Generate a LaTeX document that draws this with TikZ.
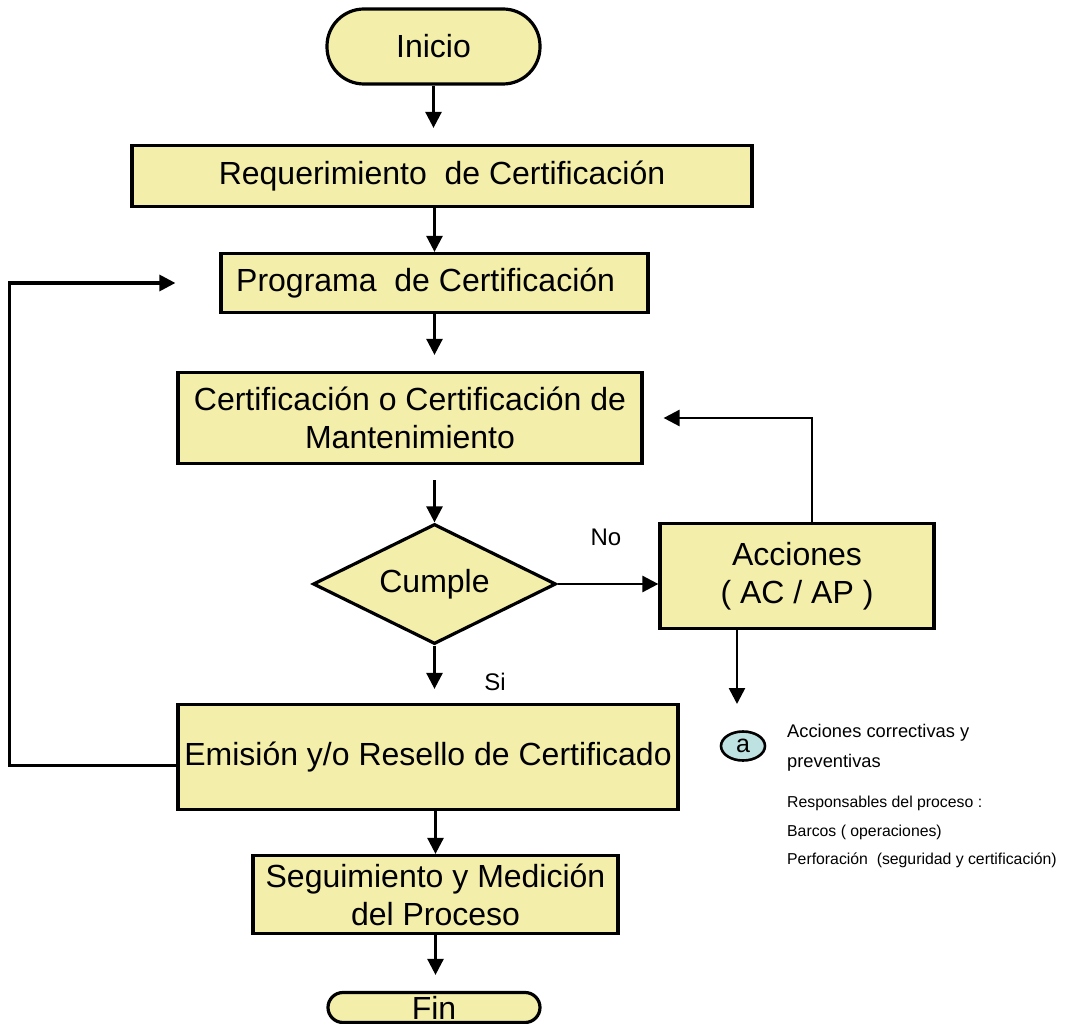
\documentclass[tikz,border=0pt]{standalone}
\usepackage{fontspec}
\setmainfont{Liberation Sans}
\usetikzlibrary{arrows.meta,shapes.geometric}
\definecolor{boxfill}{RGB}{243,238,170}
\definecolor{cfill}{RGB}{190,225,225}
\begin{document}
\begin{tikzpicture}[x=1pt,y=-1pt,
  box/.style={draw=black,line width=3.2pt,fill=boxfill,inner sep=0pt,align=center,
    font=\fontsize{32}{38}\selectfont},
  term/.style={box,rounded corners=#1},
  decision/.style={draw=black,line width=3.2pt,fill=boxfill,diamond,inner sep=0pt,
    font=\fontsize{32}{38}\selectfont},
  arr/.style={line width=2.6pt,-{Triangle[length=16pt,width=16pt]}},
  lbl/.style={font=\fontsize{24}{28}\selectfont},
  note/.style={anchor=base west,inner sep=0pt,font=\fontsize{18.3}{22}\selectfont},
  snote/.style={anchor=base west,inner sep=0pt,font=\fontsize{15.8}{19}\selectfont}]
\useasboundingbox (0,0) rectangle (1074,1024);

\node[term=37pt,minimum width=213pt,minimum height=75pt] (inicio) at (433.5,46.5) {Inicio};
\node[box,minimum width=620pt,minimum height=61pt] (req) at (442,176) {Requerimiento\ \ de Certificación};
\node[box,minimum width=427pt,minimum height=59pt] (prog) at (434.5,283) {Programa\ \ de Certificación\ \ };
\node[box,minimum width=464pt,minimum height=91pt] (cert) at (410,418) {Certificación o Certificación de\\Mantenimiento};
\node[decision,minimum width=243pt,minimum height=120pt,aspect=2.025] (dia) at (434.5,584) {Cumple};
\node[box,minimum width=274pt,minimum height=105pt] (acc) at (797,576) {Acciones\\( AC / AP )};
\node[box,minimum width=500pt,minimum height=105pt] (emis) at (428,757) {Emisión y/o Resello de Certificado};
\node[box,minimum width=365pt,minimum height=78pt] (seg) at (435.5,894.5) {Seguimiento y Medición\\del Proceso};
\node[term=15pt,minimum width=212pt,minimum height=30pt] (fin) at (434,1007.5) {Fin};

\node[lbl] (no) at (606,537) {No};
\node[lbl] (si) at (495,682) {Si};

\node[draw=black,line width=2.6pt,fill=cfill,ellipse,minimum width=44pt,minimum height=29pt,inner sep=0pt,
  font=\fontsize{25}{28}\selectfont] (a) at (743,746) {a};
\coordinate (accend) at (737,704);

\node[note] (n1) at (787,737) {Acciones correctivas y};
\node[note] (n2) at (787,767) {preventivas};
\node[snote] (n3) at (787,807) {Responsables del proceso :};
\node[snote] (n4) at (787,836) {Barcos ( operaciones)};
\node[snote] (n5) at (787,864) {Perforación\ \ (seguridad y certificación)};

\draw[arr,shorten >=16pt] (inicio.south) -- (inicio.south |- req.north);
\draw[arr] (prog.north |- req.south) -- (prog.north);
\draw[arr,shorten >=16pt] (prog.south) -- (prog.south |- cert.north);
\draw[arr,shorten <=15pt] (dia.north |- cert.south) -- (dia.north);
\draw[arr] (dia.east) -- (dia.east -| acc.west);
\draw[arr,shorten >=20pt] ([xshift=15pt]acc.north) |- (cert.east);
\draw[arr] (accend |- acc.south) -- (accend);
\draw[arr,shorten >=14pt] (dia.south) -- (dia.south |- emis.north);
\draw[line width=3.2pt,-{Triangle[length=16pt,width=16pt]},shorten >=44pt]
  ([yshift=-8.5pt]emis.west) -- ++(-167,0) |- (prog.west);
\draw[arr] (seg.north |- emis.south) -- (seg.north);
\draw[arr,shorten >=16pt] (seg.south) -- (seg.south |- fin.north);
\end{tikzpicture}
\end{document}
